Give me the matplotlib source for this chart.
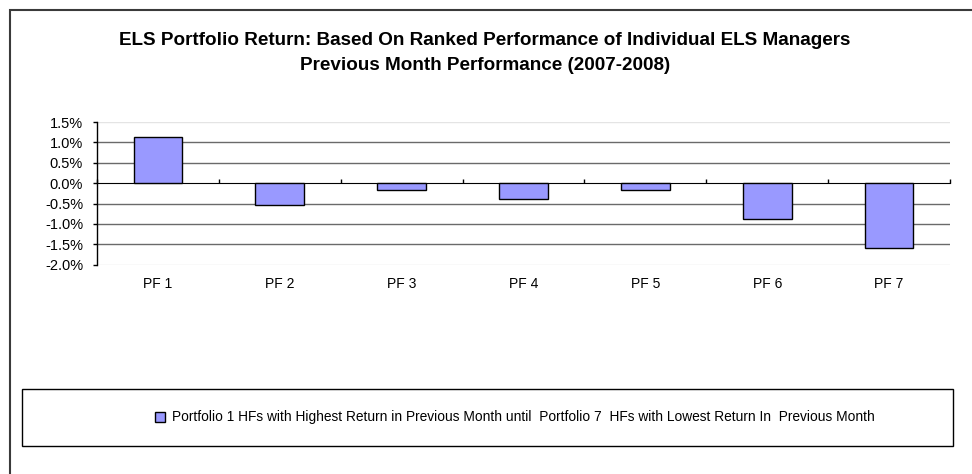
import matplotlib
matplotlib.use('Agg')
import matplotlib.pyplot as plt
import numpy as np
from matplotlib.patches import Rectangle
from matplotlib.ticker import FuncFormatter

plt.rcParams['font.family'] = ['Liberation Sans', 'DejaVu Sans']

categories = ['PF 1', 'PF 2', 'PF 3', 'PF 4', 'PF 5', 'PF 6', 'PF 7']
returns = [1.12, -0.54, -0.18, -0.40, -0.18, -0.87, -1.58]  # percent
yticks = [1.5, 1.0, 0.5, 0.0, -0.5, -1.0, -1.5, -2.0]
legend_label = ('Portfolio 1 HFs with Highest Return in Previous Month until  '
                'Portfolio 7  HFs with Lowest Return In  Previous Month')
title = ('ELS Portfolio Return: Based On Ranked Performance of Individual ELS Managers\n'
         'Previous Month Performance (2007-2008)')

W, H = 972, 474
fig = plt.figure(figsize=(W / 100, H / 100), dpi=100)

# plot area, in pixels of the reference
left, right, top, bottom = 97, 950, 122, 264.7
ax = fig.add_axes([left / W, 1 - bottom / H, (right - left) / W, (bottom - top) / H])

x = np.arange(len(categories))
bars = ax.bar(x, returns, width=0.4, color='#9999ff', edgecolor='black',
              linewidth=1, label=legend_label, zorder=3)

ax.set_xlim(-0.5, len(categories) - 0.5)
ax.set_ylim(min(yticks), max(yticks))
ax.set_yticks(yticks)
ax.yaxis.set_major_formatter(FuncFormatter(lambda v, p: '%.1f%%' % v))
ax.tick_params(axis='y', direction='out', length=3, width=1, pad=7,
               labelsize=10.5, color='black')

ax.yaxis.grid(True, color='#6a6a6a', linewidth=1)
for g, v in zip(ax.get_ygridlines(), ax.get_yticks()):
    if v in (max(yticks), min(yticks)):
        g.set_color('#e4e4e4')
    if v == 0:
        g.set_visible(False)
ax.set_axisbelow(True)

for s in ['top', 'right', 'bottom']:
    ax.spines[s].set_visible(False)
ax.spines['left'].set_color('black')
ax.spines['left'].set_linewidth(1)

# category labels below the plot area
ax.set_xticks(x)
ax.set_xticklabels(categories)
ax.tick_params(axis='x', length=0, pad=9, labelsize=10)

# category axis drawn on the zero line with ticks between categories
zero_pos = (0 - min(yticks)) / (max(yticks) - min(yticks))
sec = ax.secondary_xaxis(zero_pos)
sec.set_xticks(np.arange(-0.5, len(categories), 1.0))
sec.set_xticklabels([])
sec.tick_params(axis='x', direction='out', length=3, width=1, color='black')
sec.spines['bottom'].set_color('black')
sec.spines['bottom'].set_linewidth(1)
sec.spines['bottom'].set_zorder(4)

fig.text(485 / W, 1 - 53 / H, title, ha='center', va='center',
         fontsize=13.6, fontweight='bold', linespacing=1.6)

# outer chart border (only left and top visible in the reference)
fig.add_artist(Rectangle((10 / W, -0.1), 1.2, 1 - 10 / H + 0.1,
                         transform=fig.transFigure, fill=False,
                         edgecolor='#3a3a3a', linewidth=1.5))

# legend box
lx0, lx1, ly0, ly1 = 22, 953, 389, 446
fig.add_artist(Rectangle((lx0 / W, 1 - ly1 / H), (lx1 - lx0) / W, (ly1 - ly0) / H,
                         transform=fig.transFigure, fill=False,
                         edgecolor='black', linewidth=1))
fig.legend(handles=[bars], labels=[legend_label], loc='center',
           bbox_to_anchor=(515 / W, 1 - (ly0 + ly1) / 2 / H),
           frameon=False, fontsize=9.9, handlelength=0.7, handleheight=0.7,
           handletextpad=0.5)

fig.savefig('out.png', dpi=100)
